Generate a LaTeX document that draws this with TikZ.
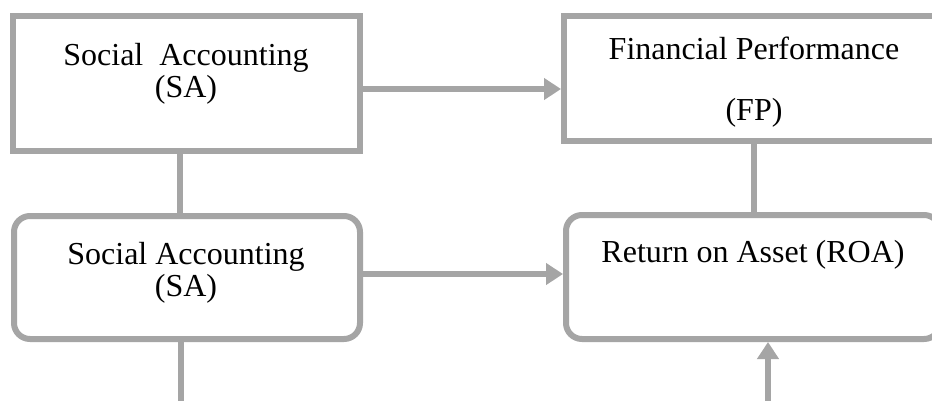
\documentclass[tikz,border=0pt]{standalone}
\usepackage{fontspec}
\setmainfont{Liberation Serif}
\usetikzlibrary{arrows.meta}
\definecolor{linegray}{HTML}{A5A5A5}
\tikzset{
  boxsq/.style={draw=linegray, line width=6pt, fill=white, inner sep=0pt},
  boxrd/.style={boxsq, rounded corners=16pt},
  lbl/.style={anchor=base, inner sep=0pt, font=\fontsize{32}{32}\selectfont},
  conn/.style={draw=linegray, line width=6pt},
  arr/.style={conn, -{Triangle[length=17pt,width=21pt]}}
}
\begin{document}
\begin{tikzpicture}[x=1pt,y=-1pt]
\useasboundingbox (0,0) rectangle (932,400);
\clip (0,0) rectangle (932,400);
\fill[white] (0,0) rectangle (932,400);
% boxes
\node[boxsq, minimum width=347pt, minimum height=135pt] (sa1) at (186.5,83.5) {};
\node[boxsq, minimum width=380pt, minimum height=125pt] (fp) at (754,78.5) {};
\node[boxrd, minimum width=346pt, minimum height=123pt] (sa2) at (187,277.5) {};
\node[boxrd, minimum width=374pt, minimum height=124pt] (roa) at (753,277) {};
% texts
\node[lbl] (t1a) at (186,65) {Social\ \ Accounting};
\node[lbl] (t1b) at (186,97) {(SA)};
\node[lbl] (t2a) at (754,59) {Financial Performance};
\node[lbl] (t2b) at (754,120) {(FP)};
\node[lbl] (t3a) at (186,264) {Social Accounting};
\node[lbl] (t3b) at (186,296) {(SA)};
\node[lbl] (t4a) at (753,262) {Return on Asset (ROA)};
% connector helpers
\coordinate (r1) at (0,89);
\coordinate (r2) at (0,274);
\coordinate (c1) at (180,0);
\coordinate (bot1) at (181,403);
\coordinate (bot2) at (768,403);
% connectors
\draw[conn] (sa1.south -| c1) -- (sa2.north -| c1);
\draw[arr] (sa1.east |- r1) -- (fp.west |- r1);
\draw[arr] (sa2.east |- r2) -- (roa.west |- r2);
\draw[conn] (fp.south) -- (roa.north -| fp.south);
\draw[conn] (sa2.south -| bot1) -- (bot1);
\draw[arr] (bot2) -- (roa.south -| bot2);
\end{tikzpicture}
\end{document}
